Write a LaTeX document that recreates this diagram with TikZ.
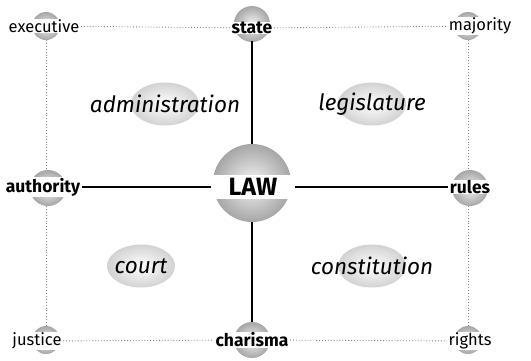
\documentclass[tikz,border=0pt]{standalone}
\usepackage{fontspec}
\setmainfont{Fira Sans}
\usetikzlibrary{shapes.geometric}
\begin{document}
\begin{tikzpicture}[x=1pt,y=-1pt,
  lbl/.style={fill=white, inner xsep=1.5pt, inner ysep=0.5pt, font=\fontsize{16.5}{16.5}\selectfont},
  blbl/.style={fill=white, inner xsep=1.5pt, inner ysep=0.5pt, font=\fontsize{17.5}{17.5}\selectfont\bfseries},
  oval/.style={ellipse, minimum width=68pt, minimum height=43pt, inner sep=0pt, inner color=white, outer color=gray!35},
  olbl/.style={font=\fontsize{22.5}{22.5}\selectfont\itshape},
  sphere/.style={inner color=gray!8, outer color=gray!70},
  dotline/.style={gray, dotted, line width=0.9pt},
  solid line/.style={black, line width=1.3pt}]
\useasboundingbox (0,0) rectangle (531,360);
% spheres
\foreach \x/\y/\r in {46/26/14, 468/26/14, 46/340/14, 468/340/14}
  \shade[sphere] (\x,\y) circle (\r);
\foreach \x/\y/\r in {252/24/18, 48/188/18, 470/188/18, 252/340/18}
  \shade[sphere] (\x,\y) circle (\r);
\shade[sphere] (252,183) circle (39);
% text nodes
\node[lbl] (exe) at (44,26) {executive};
\node[lbl] (maj) at (480,26) {majority};
\node[lbl] (jus) at (37,341) {justice};
\node[lbl] (rig) at (470,341) {rights};
\node[blbl] (sta) at (252,28) {state};
\node[blbl] (aut) at (43,187) {authority};
\node[blbl] (rul) at (470,187) {rules};
\node[blbl] (cha) at (252,340) {charisma};
\node[fill=white, minimum width=84pt, minimum height=24pt, inner sep=0pt,
  font=\fontsize{25}{25}\selectfont\bfseries] (law) at (253,187) {LAW};
\coordinate (lawtop) at (252,144);
\coordinate (lawbot) at (252,222);
\coordinate (statebot) at (252,41);
\coordinate (chatop) at (252,322);
% dotted grid
\draw[dotline] (exe) -- (sta);
\draw[dotline] (sta) -- (maj);
\draw[dotline] (jus) -- (cha);
\draw[dotline] (cha) -- (rig);
\coordinate (exeb) at (46,40);
\coordinate (autt) at (46,170);
\coordinate (autb) at (46,206);
\coordinate (just) at (46,326);
\coordinate (majb) at (468,40);
\coordinate (rult) at (468,170);
\coordinate (rulb) at (468,206);
\coordinate (rigt) at (468,326);
\draw[dotline] (exeb) -- (autt);
\draw[dotline] (autb) -- (just);
\draw[dotline] (majb) -- (rult);
\draw[dotline] (rulb) -- (rigt);
% solid lines
\draw[solid line] (statebot) -- (lawtop);
\draw[solid line] (lawbot) -- (chatop);
\draw[solid line] (aut) -- (law);
\draw[solid line] (law) -- (rul);
% ovals
\node[oval] (adm) at (165,104) {};
\node[olbl] at (adm) {administration};
\node[oval] (leg) at (372,104) {};
\node[olbl] at (leg) {legislature};
\node[oval] (cou) at (141,266) {};
\node[olbl] at (cou) {court};
\node[oval] (con) at (372,266) {};
\node[olbl] at (con) {constitution};
\end{tikzpicture}
\end{document}
